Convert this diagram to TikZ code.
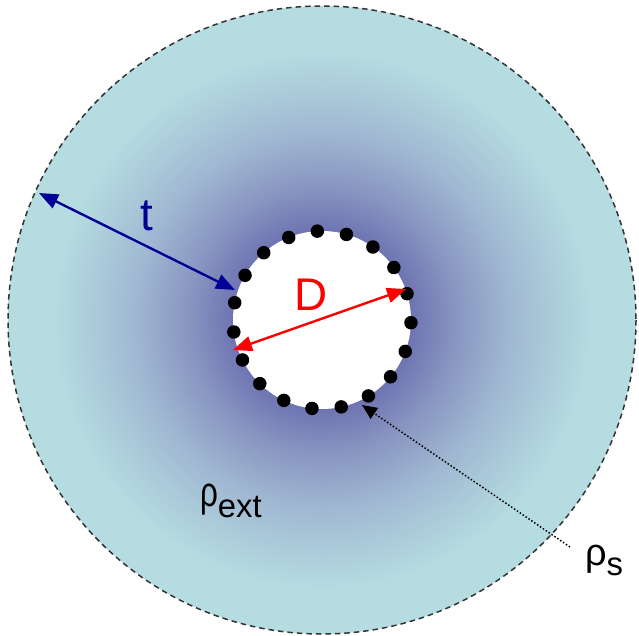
\documentclass[tikz,border=0pt]{standalone}
\usepackage{fontspec}
\setmainfont{Liberation Sans}
\usetikzlibrary{arrows.meta,calc}
\definecolor{cdark}{RGB}{110,116,178}
\definecolor{cdm}{RGB}{135,148,192}
\definecolor{cmid}{RGB}{160,184,210}
\definecolor{clight}{RGB}{181,221,225}
\definecolor{tblue}{RGB}{0,0,150}
\pgfdeclareradialshading{ringshade}{\pgfpoint{0bp}{0bp}}{color(0bp)=(cdark); color(7.1bp)=(cdark); color(10.5bp)=(cdm); color(15bp)=(cmid); color(21.5bp)=(clight); color(25bp)=(clight); color(50bp)=(clight)}
\tikzset{
  outerring/.style={draw=black!80, line width=1.5bp, dash pattern=on 5.5bp off 4bp},
  bead/.style={circle, fill=black, inner sep=0pt, minimum size=13.5bp},
  tarrow/.style={draw=tblue, line width=2.4bp, {Triangle[length=19bp,width=15bp]}-{Triangle[length=19bp,width=15bp]}},
  darrow/.style={draw=red, line width=2.4bp, {Triangle[length=19bp,width=15bp]}-{Triangle[length=19bp,width=15bp]}},
  sarrow/.style={draw=black, line width=1.5bp, dotted, -{Triangle[length=15bp,width=13bp]}},
  lbl/.style={inner sep=0pt, outer sep=0pt}
}
\begin{document}
\begin{tikzpicture}[x=1bp,y=-1bp]
\useasboundingbox (0,0) rectangle (639,636);
\coordinate (c) at (322,320);
\shade[shading=ringshade] (c) circle (314);
\fill[white] (c) circle (89);
\draw[outerring] (c) circle (314);
\foreach \k in {0,...,18}{
  \node[bead] (b\k) at ($(c)+(-93+\k*18.947:89)$) {};
}
\coordinate (t1) at (39,193);
\coordinate (t2) at (235,290);
\draw[tarrow] (t1) -- (t2);
\coordinate (d1) at (233,350);
\coordinate (d2) at (406,289);
\draw[darrow] (d1) -- (d2);
\coordinate (s1) at (570,547);
\coordinate (s2) at (362,405);
\draw[sarrow] (s1) -- (s2);
\node[lbl, anchor=base, text=tblue, font=\fontsize{46}{46}\selectfont] (tl) at (147,230) {t};
\node[lbl, anchor=base, text=red, font=\fontsize{46}{46}\selectfont] (dl) at (311,310) {D};
\node[lbl, anchor=base west, font=\fontsize{42}{42}\selectfont] (rext) at (200,506) {\scalebox{0.75}[1]{ρ}\raisebox{-11bp}{\fontsize{33}{33}\selectfont ext}};
\node[lbl, anchor=base west, font=\fontsize{38}{38}\selectfont] (rs) at (585,565) {ρ\raisebox{-10bp}{\fontsize{33}{33}\selectfont s}};
\end{tikzpicture}
\end{document}
